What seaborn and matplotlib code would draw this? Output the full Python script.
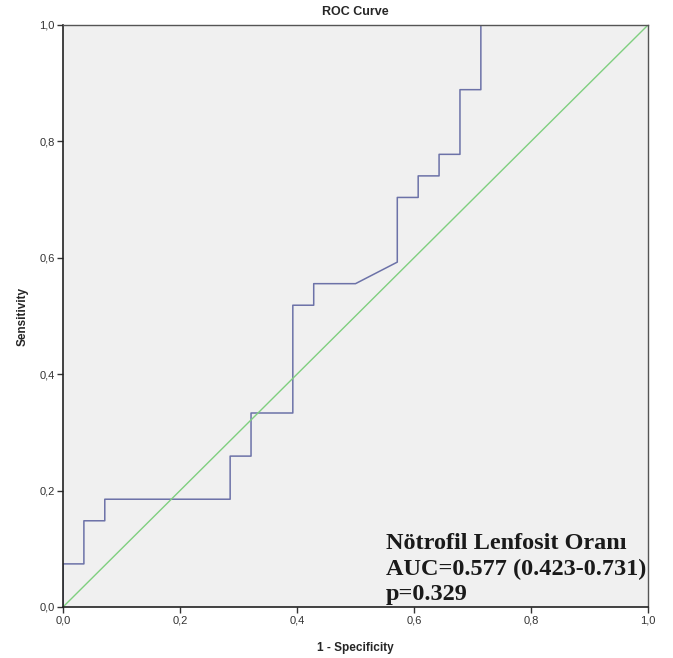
import numpy as np
import pandas as pd
import matplotlib
matplotlib.use("Agg")
import matplotlib.pyplot as plt
import seaborn as sns

# ROC points (27 positives, 28 negatives)
fpr = [0.0, 0.0, 1/28, 1/28, 2/28, 2/28, 8/28, 8/28, 9/28, 9/28, 11/28, 11/28,
       12/28, 12/28, 14/28, 16/28, 16/28, 17/28, 17/28, 18/28, 18/28, 19/28,
       19/28, 20/28, 20/28, 1.0]
tpr = [0.0, 2/27, 2/27, 4/27, 4/27, 5/27, 5/27, 7/27, 7/27, 9/27, 9/27, 14/27,
       14/27, 15/27, 15/27, 16/27, 19/27, 19/27, 20/27, 20/27, 21/27, 21/27,
       24/27, 24/27, 1.0, 1.0]
ref_x = [0.0, 1.0]
ref_y = [0.0, 1.0]

ticks = [0.0, 0.2, 0.4, 0.6, 0.8, 1.0]
tick_labels = ['0,0', '0,2', '0,4', '0,6', '0,8', '1,0']

note_lines = ['Nötrofil Lenfosit Oranı', 'AUC=0.577 (0.423-0.731)', 'p=0.329']
note_y = [0.0997, 0.055, 0.012]

sns.set_style("white")
plt.rcParams['font.family'] = ['Liberation Sans', 'DejaVu Sans']

fig = plt.figure(figsize=(6.73, 6.58), dpi=100)
ax = fig.add_axes([63/673, 51/658, 585/673, 582/658])
ax.set_facecolor('#f0f0f0')

roc = pd.DataFrame({'fpr': fpr, 'tpr': tpr})
sns.lineplot(data=roc, x='fpr', y='tpr', sort=False, estimator=None,
             color='#6c72a8', linewidth=1.1, ax=ax)
sns.lineplot(x=ref_x, y=ref_y, color='#7fcf7f', linewidth=1.0, ax=ax)

ax.set_xlim(0, 1)
ax.set_ylim(0, 1)
ax.set_xticks(ticks)
ax.set_xticklabels(tick_labels)
ax.set_yticks(ticks)
ax.set_yticklabels(tick_labels)
ax.tick_params(direction='out', length=4, width=1, color='#333333',
               labelsize=8, labelcolor='#333333', pad=2,
               bottom=True, left=True)
for s in ['left', 'bottom']:
    ax.spines[s].set_color('#222222')
    ax.spines[s].set_linewidth(1.2)
for s in ['top', 'right']:
    ax.spines[s].set_color('#555555')
    ax.spines[s].set_linewidth(1.0)

ax.set_xlabel('1 - Specificity', fontsize=8.5, fontweight='bold', labelpad=12)
ax.set_ylabel('Sensitivity', fontsize=8.5, fontweight='bold', labelpad=8)
ax.set_title('ROC Curve', fontsize=9, fontweight='bold', pad=7.5)

for line, yy in zip(note_lines, note_y):
    ax.text(0.552, yy, line, transform=ax.transAxes,
            fontsize=17.5, fontweight='bold', family='Liberation Serif',
            color='#1a1a1a', va='baseline', ha='left', clip_on=True)

plt.savefig('out.png', dpi=100)
